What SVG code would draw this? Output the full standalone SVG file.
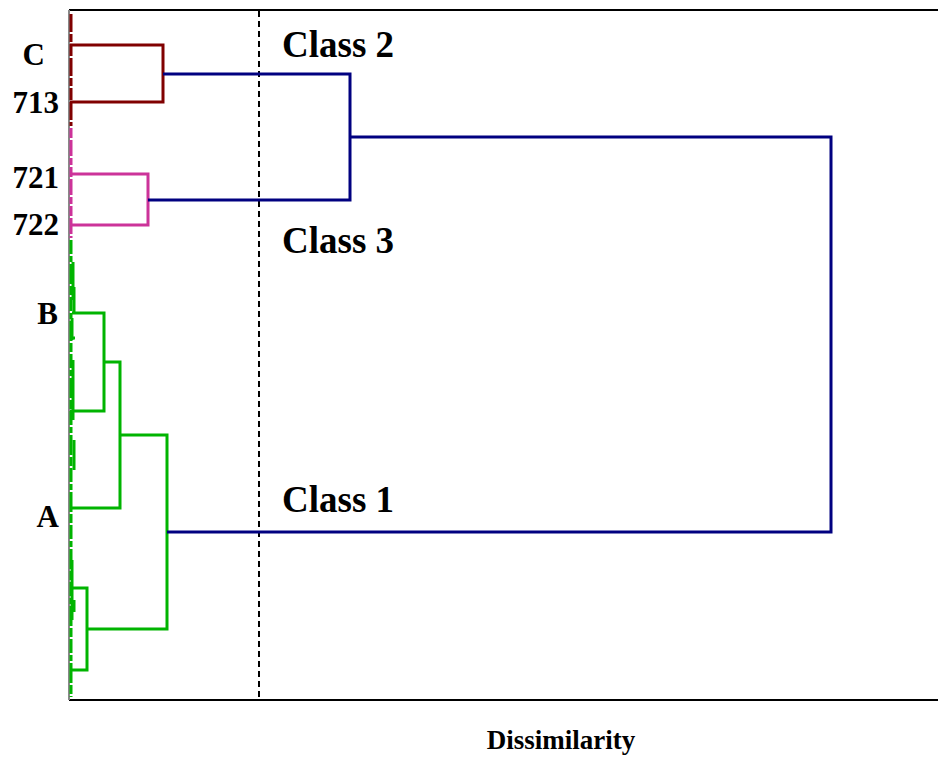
<svg xmlns="http://www.w3.org/2000/svg" width="938" height="759" viewBox="0 0 938 759">
<style>
.lbl{font-family:"Liberation Serif","Times New Roman",serif;font-weight:bold;fill:#000}
.leaf{font-size:31px;text-anchor:end}
.cls{font-size:37px}
.c2{stroke:#800000;stroke-width:3;fill:none}
.c3{stroke:#cc3399;stroke-width:3;fill:none}
.c1{stroke:#00b400;stroke-width:3;fill:none}
.nv{stroke:#000080;stroke-width:3;fill:none}
.lf1{stroke:#00b400;stroke-width:3;fill:none;stroke-dasharray:14 2 6 2 20 2 9 2}
.lf2{stroke:#800000;stroke-width:3;fill:none;stroke-dasharray:18 2 8 2 12 2}
.lf3{stroke:#cc3399;stroke-width:3;fill:none;stroke-dasharray:10 2 16 2 7 2}
</style>
<rect width="938" height="759" fill="#fff"/>
<g id="frame">
<line x1="69" y1="10" x2="938" y2="10" stroke="#000" stroke-width="2"/>
<line x1="69" y1="700" x2="938" y2="700" stroke="#000" stroke-width="2"/>
<line x1="69" y1="10" x2="69" y2="700" stroke="#888" stroke-width="2"/>
<line x1="259" y1="11" x2="259" y2="699" stroke="#000" stroke-width="2" stroke-dasharray="6 4"/>
</g>
<g id="connectors">
<path class="lf2" d="M71 14V126"/>
<path class="lf3" d="M71 128V238"/>
<path class="lf1" d="M71 240V697"/>
<path class="c1" d="M73 262V300M74 287V312M72 318V340M73 360V420M74 440V470M72 560V620M74 600V612"/>
<path class="c2" d="M70 45H163V102H70"/>
<path class="c3" d="M70 174H148V225H70"/>
<path class="c1" d="M72 313H104V411H70"/>
<path class="c1" d="M104 362H120V508H70"/>
<path class="c1" d="M120 435H167V629H87"/>
<path class="c1" d="M72 588H87V670H70"/>
<path class="c1" d="M70 338H75"/>
<path class="nv" d="M163 74H350V200H148"/>
<path class="nv" d="M350 137H831V532H167"/>
</g>
<g id="leaf-C"><text class="lbl leaf" x="45" y="65">C</text></g>
<g id="leaf-713"><text class="lbl leaf" x="59" y="113">713</text></g>
<g id="leaf-721"><text class="lbl leaf" x="59" y="188">721</text></g>
<g id="leaf-722"><text class="lbl leaf" x="59" y="235">722</text></g>
<g id="leaf-B"><text class="lbl leaf" x="58" y="324">B</text></g>
<g id="leaf-A"><text class="lbl leaf" x="59" y="527">A</text></g>
<g id="class2"><text class="lbl cls" x="282" y="57">Class 2</text></g>
<g id="class3"><text class="lbl cls" x="282" y="253">Class 3</text></g>
<g id="class1"><text class="lbl cls" x="282" y="512">Class 1</text></g>
<g id="axis-label"><text class="lbl" x="561" y="749" font-size="27" text-anchor="middle">Dissimilarity</text></g>
</svg>
